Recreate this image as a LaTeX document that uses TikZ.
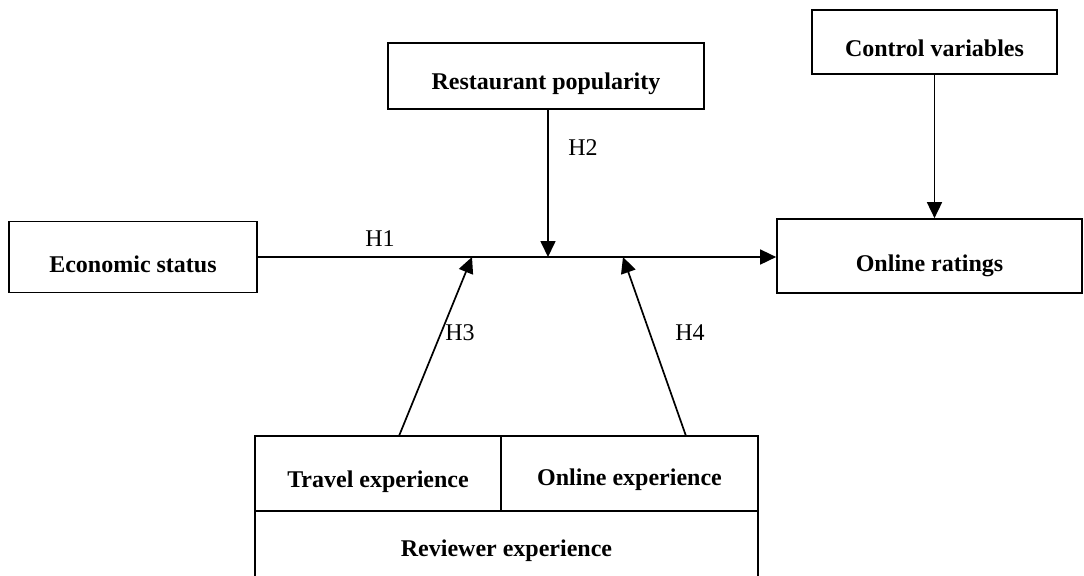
\documentclass[tikz,border=0pt]{standalone}
\usepackage{fontspec}
\setmainfont{Liberation Serif}
\usetikzlibrary{arrows.meta}

\begin{document}
\begin{tikzpicture}[x=.5pt, y=-.5pt, line width=.85pt,
    every node/.style={font=\fontsize{12}{14}\selectfont},
    box/.style={draw, inner sep=0pt, text height=16pt, font=\fontsize{12}{14}\selectfont\bfseries},
    arr/.style={-{Triangle[length=8pt,width=7.5pt]}}]
  \useasboundingbox (0,0) rectangle (1084,575);
  \clip (0,0) rectangle (1084,575);
  % boxes
  \node[box, minimum width=124pt, minimum height=35.5pt, text height=15.5pt] (econ) at (133,257) {Economic status};
  \node[box, minimum width=152.5pt, minimum height=37pt, text height=18pt] (ratings) at (929.5,256) {Online ratings};
  \node[box, minimum width=122.5pt, minimum height=32pt, text height=14.5pt] (control) at (934.5,42) {Control variables};
  \node[box, minimum width=158pt, minimum height=33pt, text height=16.5pt] (popular) at (546,76) {Restaurant popularity};
  \node[box, minimum width=123pt, minimum height=37.5pt, text height=17pt] (travel) at (378,473.5) {Travel experience};
  \node[box, minimum width=128.5pt, minimum height=37.5pt, text height=14.5pt] (onlexp) at (629.5,473.5) {Online experience};
  \node[box, minimum width=251.5pt, minimum height=37.5pt, text height=11.5pt] (reviewer) at (506.5,548) {Reviewer experience};
  % join points on the main path
  \coordinate (j2) at (548,257);
  \coordinate (j3) at (472,257);
  \coordinate (j4) at (623,257);
  \coordinate (s3) at (399,436);
  \coordinate (s4) at (686,436);
  % connectors
  \draw[arr] (econ.east) -- (ratings.west |- econ.east);
  \draw[arr] (popular.south -| j2) -- (j2);
  \draw[arr] (s3) -- (j3);
  \draw[arr] (s4) -- (j4);
  \draw[arr] (control.south) -- (control.south |- ratings.north);
  % labels
  \node (h1) at (380,239) {H1};
  \node (h2) at (583,148) {H2};
  \node (h3) at (460,333) {H3};
  \node (h4) at (690,333) {H4};
\end{tikzpicture}
\end{document}
